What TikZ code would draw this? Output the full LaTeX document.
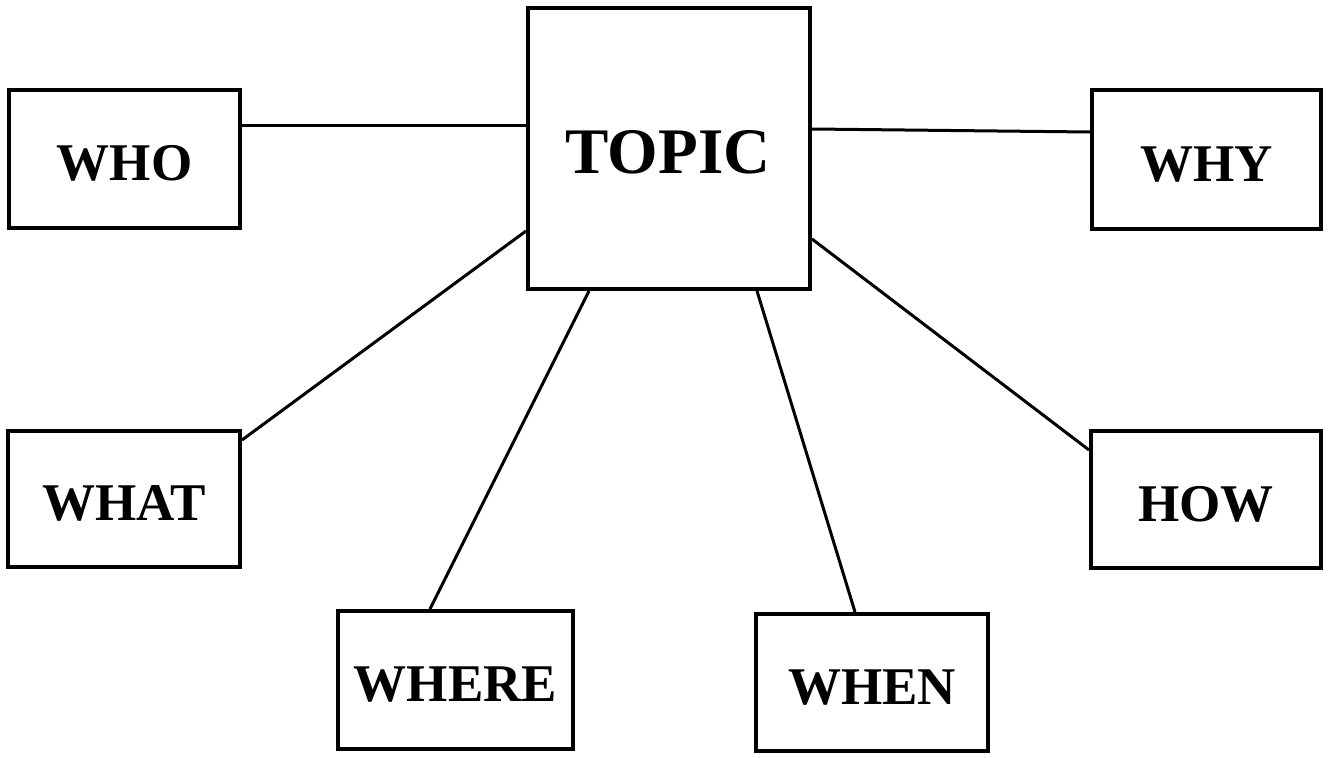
\documentclass[tikz,border=0pt]{standalone}
\usepackage{fontspec}
\setmainfont{Liberation Serif}
\begin{document}
\begin{tikzpicture}[x=1pt,y=-1pt,
  box/.style={draw=black, line width=4pt, inner sep=0pt, text height=43pt, text depth=0pt, font=\fontsize{53}{60}\selectfont\bfseries},
  conn/.style={draw=black, line width=3pt}]
\useasboundingbox (0,0) rectangle (1329,757);
\node[box, minimum width=231pt, minimum height=138pt] (who) at (124.5,159) {WHO};
\node[box, minimum width=282pt, minimum height=281pt] (topic) at (669,148.5) {};
\node[font=\fontsize{65}{72}\selectfont\bfseries] (topiclabel) at (668,152) {TOPIC};
\node[box, minimum width=229pt, minimum height=139pt] (why) at (1206.5,159.5) {WHY};
\node[box, minimum width=232pt, minimum height=136pt] (what) at (124,499) {WHAT};
\node[box, minimum width=230pt, minimum height=137pt] (how) at (1206,499.5) {HOW};
\node[box, minimum width=235pt, minimum height=138pt] (where) at (455.5,680) {WHERE};
\node[box, minimum width=232pt, minimum height=137pt] (when) at (872,682.5) {WHEN};
\draw[conn] (who.east |- 0,125) -- (topic.west |- 0,125);
\draw[conn] (topic.east |- 0,129) -- (why.west |- 0,132);
\draw[conn] (topic.west |- 0,231) -- (what.east |- 0,440);
\draw[conn] (topic.south -| 589,0) -- (where.north -| 430,0);
\draw[conn] (topic.south -| 757,0) -- (when.north -| 855,0);
\draw[conn] (topic.east |- 0,239) -- (how.west |- 0,450);
\end{tikzpicture}
\end{document}
